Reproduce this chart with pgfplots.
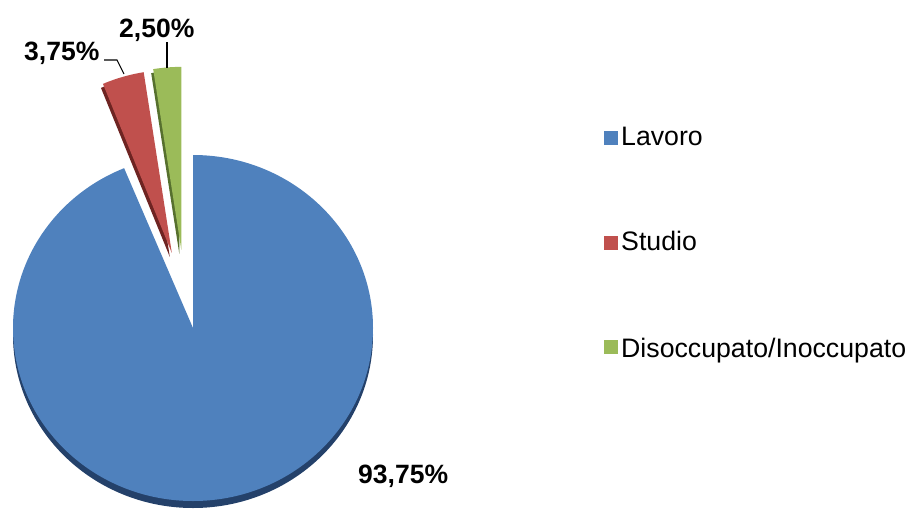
\documentclass[border=0pt]{standalone}
\usepackage{pgfplots}
\usepackage{pgfplotstable}
\usepackage{fontspec}
\setmainfont{Liberation Sans}
\pgfplotsset{compat=1.18}

\definecolor{lav}{HTML}{4F81BD}
\definecolor{stu}{HTML}{C0504D}
\definecolor{dis}{HTML}{9BBB59}
\definecolor{lavdk}{HTML}{24416A}
\definecolor{studk}{HTML}{6E2422}
\definecolor{disdk}{HTML}{56702E}

% share of answers, in percent
\pgfplotstableread{
name value
Lavoro 93.75
Studio 3.75
Disoccupato 2.50
}\piedata

\begin{document}
\begin{tikzpicture}
\pgfplotstablegetelem{0}{value}\of\piedata \pgfmathsetmacro\va{\pgfplotsretval}
\pgfplotstablegetelem{1}{value}\of\piedata \pgfmathsetmacro\vb{\pgfplotsretval}
\pgfplotstablegetelem{2}{value}\of\piedata \pgfmathsetmacro\vc{\pgfplotsretval}
% clockwise from 12 o'clock
\pgfmathsetmacro\aA{90}
\pgfmathsetmacro\aB{\aA-3.6*\va}
\pgfmathsetmacro\aC{\aB-3.6*\vb}
\pgfmathsetmacro\aD{\aC-3.6*\vc}
\pgfmathsetmacro\mB{(\aB+\aC)/2}
\pgfmathsetmacro\mC{(\aC+\aD)/2+4}
\begin{axis}[x=1pt, y=1pt, xmin=0, xmax=914, ymin=0, ymax=512,
  y dir=reverse, hide axis, clip=false, anchor=south west, at={(0,0)}]
% depth rims
\fill[lavdk] ([yshift=-7pt]axis cs:193,328) -- ++(\aA:180pt and 173pt)
  arc[start angle=\aA, end angle=\aB, x radius=180pt, y radius=173pt] -- cycle;
\fill[studk] ([shift={(\mB:78pt)}, shift={(-2pt,-4pt)}]axis cs:193,328) -- ++(\aB:180pt and 183pt)
  arc[start angle=\aB, end angle=\aC, x radius=180pt, y radius=183pt] -- cycle;
\fill[disdk] ([shift={(\mC:79pt)}, shift={(-2pt,-4pt)}]axis cs:193,328) -- ++(\aC:180pt and 183pt)
  arc[start angle=\aC, end angle=\aD, x radius=180pt, y radius=183pt] -- cycle;
% faces
\fill[lav] (axis cs:193,328) -- ++(\aA:180pt and 173pt)
  arc[start angle=\aA, end angle=\aB, x radius=180pt, y radius=173pt] -- cycle;
\fill[stu] ([shift={(\mB:78pt)}]axis cs:193,328) -- ++(\aB:180pt and 183pt)
  arc[start angle=\aB, end angle=\aC, x radius=180pt, y radius=183pt] -- cycle;
\fill[dis] ([shift={(\mC:79pt)}]axis cs:193,328) -- ++(\aC:180pt and 183pt)
  arc[start angle=\aC, end angle=\aD, x radius=180pt, y radius=183pt] -- cycle;
% labels
\draw[line width=1.1pt] (axis cs:104,60) -- (axis cs:117,60) -- (axis cs:124,74);
\draw[line width=1.1pt] (axis cs:167,42) -- (axis cs:167,68);
\node[anchor=base west, inner sep=0pt, font=\fontsize{26.5}{30}\selectfont\bfseries] at (axis cs:24,60) {3,75\%};
\node[anchor=base west, inner sep=0pt, font=\fontsize{26.5}{30}\selectfont\bfseries] at (axis cs:119,37) {2,50\%};
\node[anchor=base west, inner sep=0pt, font=\fontsize{26.5}{30}\selectfont\bfseries] at (axis cs:358,483) {93,75\%};
% legend
\fill[lav] (axis cs:604,131) rectangle (axis cs:618,145);
\fill[stu] (axis cs:604,236) rectangle (axis cs:618,250);
\fill[dis] (axis cs:604,340) rectangle (axis cs:618,354);
\node[anchor=base west, inner sep=0pt, font=\fontsize{26.7}{30}\selectfont] at (axis cs:621,145) {Lavoro};
\node[anchor=base west, inner sep=0pt, font=\fontsize{26.7}{30}\selectfont] at (axis cs:621,250) {Studio};
\node[anchor=base west, inner sep=0pt, font=\fontsize{26.7}{30}\selectfont] at (axis cs:621,357) {Disoccupato/Inoccupato};
\end{axis}
\pgfresetboundingbox
\path[use as bounding box] (0,0) rectangle (914pt,512pt);
\end{tikzpicture}
\end{document}
